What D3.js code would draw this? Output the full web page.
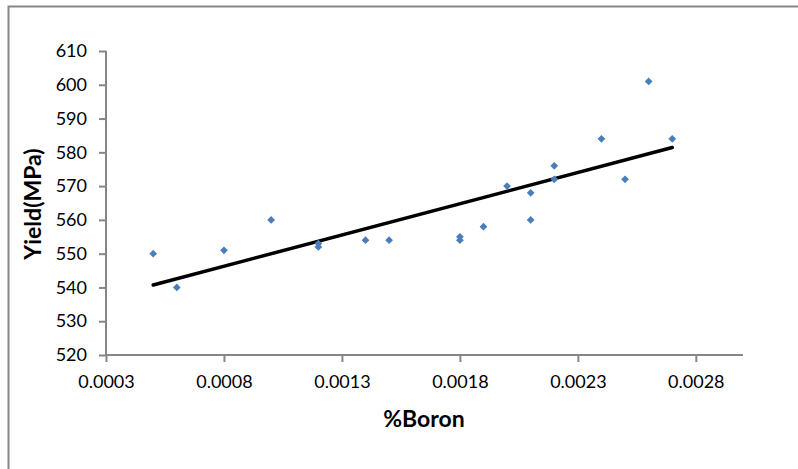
<!DOCTYPE html>
<html>
<head>
<meta charset="utf-8">
<script src="https://cdn.jsdelivr.net/npm/d3@7/dist/d3.min.js"></script>
<style>
  html, body { margin: 0; padding: 0; background: #fff; }
  svg { display: block; }
  text { font-family: Lato, "Open Sans", sans-serif; fill: #000; }
</style>
</head>
<body>
<svg id="chart" width="798" height="469"></svg>
<script>
// Boron content (%) and yield strength (MPa) per sample
const boron = [0.0005, 0.0006, 0.0008, 0.0010, 0.0012, 0.0012, 0.0014, 0.0015,
               0.0018, 0.0018, 0.0019, 0.0020, 0.0021, 0.0021, 0.0022, 0.0022,
               0.0024, 0.0025, 0.0026, 0.0027];
const yieldMPa = [550, 540, 551, 560, 553, 552, 554, 554,
                  555, 554, 558, 570, 568, 560, 576, 572,
                  584, 572, 601, 584];
const xTicks = [0.0003, 0.0008, 0.0013, 0.0018, 0.0023, 0.0028];
const yTicks = [520, 530, 540, 550, 560, 570, 580, 590, 600, 610];
const xTitle = "%Boron";
const yTitle = "Yield(MPa)";

const svg = d3.select("#chart");
const W = 798, H = 469;
const axisColor = "#868686";

// outer chart frame (only the left and top edges fall inside the view)
svg.append("rect")
  .attr("x", 8.5).attr("y", 6.5)
  .attr("width", W + 20).attr("height", H + 20)
  .attr("fill", "none")
  .attr("stroke", axisColor)
  .attr("stroke-width", 2);

const x = d3.scaleLinear().domain([0.0003, 0.0030]).range([106, 743]);
const y = d3.scaleLinear().domain([520, 610]).range([355, 51]);

// y axis
const yAxis = svg.append("g")
  .attr("transform", `translate(${x.range()[0]},0)`)
  .call(d3.axisLeft(y).tickValues(yTicks).tickSize(7).tickPadding(12).tickFormat(d3.format("d")));
// x axis
const xAxis = svg.append("g")
  .attr("transform", `translate(0,${y.range()[0]})`)
  .call(d3.axisBottom(x).tickValues(xTicks).tickSize(7).tickPadding(13).tickFormat(d => d.toFixed(4)));

[yAxis, xAxis].forEach(g => {
  g.select(".domain").attr("stroke", axisColor).attr("stroke-width", 2);
  g.selectAll(".tick line").attr("stroke", axisColor).attr("stroke-width", 2);
  g.selectAll(".tick text").attr("font-size", 18).attr("font-family", "Lato, sans-serif").attr("fill", "#000");
});
xAxis.select(".domain").attr("d", `M${x.range()[0]},0H${x.range()[1]}`);
yAxis.select(".domain").attr("d", `M0,${y.range()[0]}V${y.range()[1]}`);

// least-squares trend line through the samples
const pts = boron.map((b, i) => ({ b, v: yieldMPa[i] }));
const mx = d3.mean(boron), my = d3.mean(yieldMPa);
const sxy = d3.sum(pts, p => (p.b - mx) * (p.v - my));
const sxx = d3.sum(pts, p => (p.b - mx) ** 2);
const slope = sxy / sxx, icpt = my - slope * mx;
const [bMin, bMax] = d3.extent(boron);
const trend = [bMin, bMax].map(b => ({ b, v: icpt + slope * b }));

svg.append("path")
  .datum(trend)
  .attr("d", d3.line().x(d => x(d.b)).y(d => y(d.v)))
  .attr("fill", "none")
  .attr("stroke", "#000")
  .attr("stroke-width", 3.5)
  .attr("stroke-linecap", "round");

// diamond markers
const diamond = d3.symbol().type(d3.symbolSquare).size(30);
svg.append("g").selectAll("path")
  .data(pts)
  .join("path")
  .attr("d", diamond)
  .attr("transform", d => `translate(${x(d.b)},${y(d.v)}) rotate(45)`)
  .attr("fill", "#4a7ebb");

// axis titles
svg.append("text")
  .attr("x", 424).attr("y", 427)
  .attr("text-anchor", "middle")
  .attr("font-size", 23).attr("font-weight", "bold")
  .text(xTitle);

svg.append("text")
  .attr("transform", `translate(41,204) rotate(-90)`)
  .attr("text-anchor", "middle")
  .attr("font-size", 23).attr("font-weight", "bold")
  .text(yTitle);
</script>
</body>
</html>
